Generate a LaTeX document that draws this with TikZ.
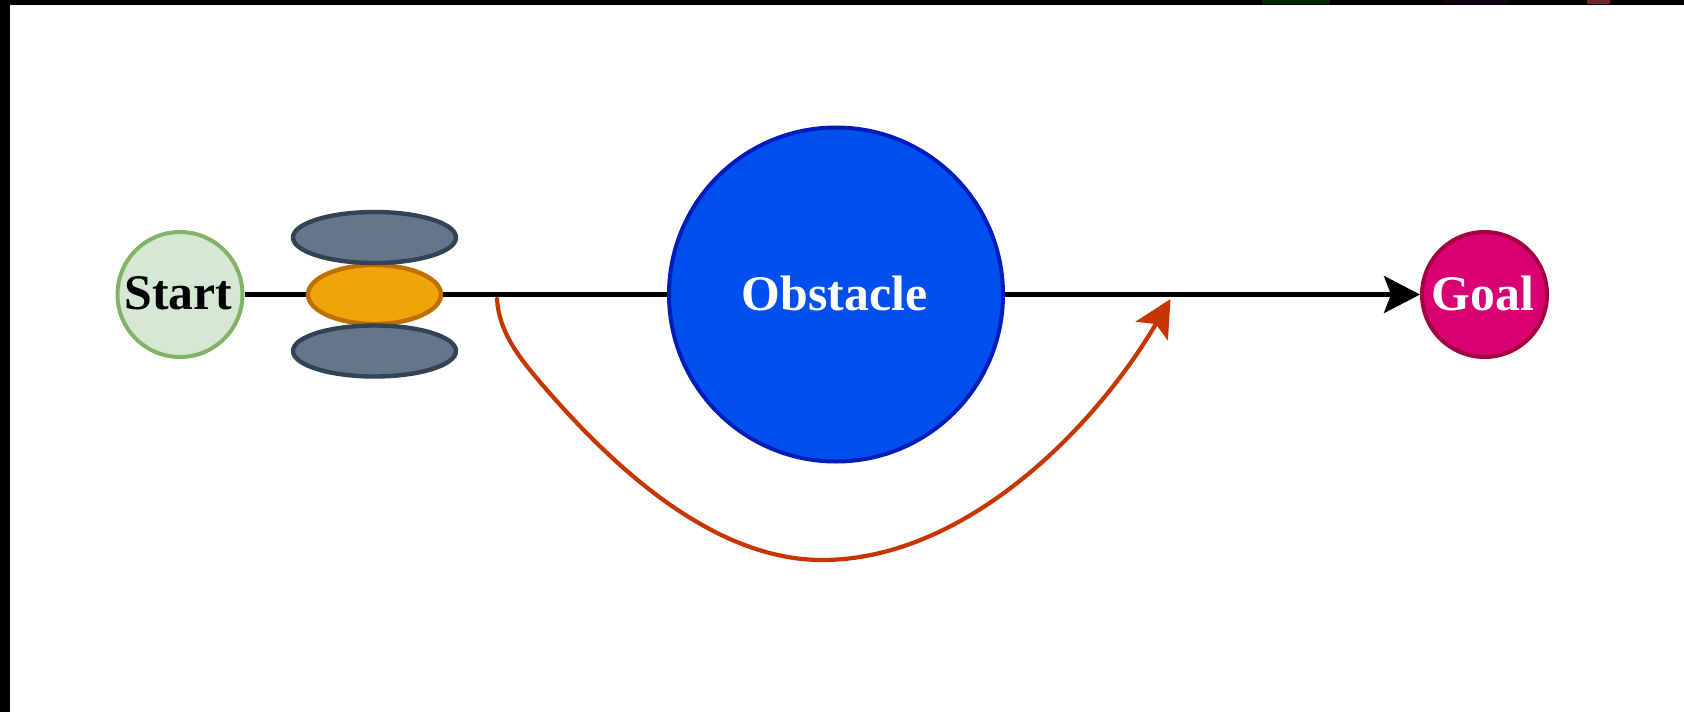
\documentclass[tikz,border=0pt]{standalone}
\usepackage{fontspec}
\setmainfont{Liberation Serif}
\usetikzlibrary{arrows.meta,shapes.geometric}
\definecolor{startfill}{HTML}{D5E8D4}
\definecolor{startline}{HTML}{82B366}
\definecolor{slatefill}{HTML}{647687}
\definecolor{slateline}{HTML}{314354}
\definecolor{orangefill}{HTML}{F0A30A}
\definecolor{orangeline}{HTML}{BD7000}
\definecolor{obfill}{HTML}{0050EF}
\definecolor{obline}{HTML}{001DBC}
\definecolor{goalfill}{HTML}{D80073}
\definecolor{goalline}{HTML}{A50040}
\definecolor{routeline}{HTML}{C73500}
\tikzset{
  disc/.style={circle,line width=4pt,inner sep=0pt,align=center,font=\fontsize{49.8}{52}\selectfont\bfseries},
  oval/.style={ellipse,line width=4.4pt,inner sep=0pt,outer sep=0pt},
  mainline/.style={line width=4.6pt,-{Stealth[length=36pt,width=37pt,inset=7pt]}},
  route/.style={draw=routeline,line width=4.2pt,line cap=round,-{Stealth[length=37pt,width=37pt,inset=8pt]}}
}
\begin{document}
\begin{tikzpicture}[x=1pt,y=-1pt]
\useasboundingbox (0,0) rectangle (1684,712);
\fill[white] (0,0) rectangle (1684,712);
\fill[black] (0,0) rectangle (10,712);
\fill[black] (0,0) rectangle (1684,4.6);
\fill[black!85!green] (1262,0) rectangle (1330,4);
\fill[black!85!violet] (1445,0) rectangle (1510,4);
\fill[black!60!red!70!gray] (1587,0) rectangle (1610,4);
\coordinate (routeStart) at (497,299);
\coordinate (routeBend) at (540,382);
\coordinate (routeLow) at (822,560);
\coordinate (routeEnd) at (1170.5,299);
\node[disc,draw=startline,fill=startfill,text=black,minimum size=125pt] (start) at (180,294.5) {\raisebox{3pt}{\kern-3pt Start}};
\node[disc,draw=goalline,fill=goalfill,text=white,minimum size=125pt] (goal) at (1484.5,294.5) {\raisebox{3pt}{\kern-3pt Goal}};
\draw[mainline] (start.east) -- (goal.west);
\node[oval,draw=orangeline,fill=orangefill,minimum width=133pt,minimum height=59pt] (robot) at (374.5,294.5) {};
\node[oval,draw=slateline,fill=slatefill,minimum width=163pt,minimum height=51pt] (upper) at (374.5,237.5) {};
\node[oval,draw=slateline,fill=slatefill,minimum width=163pt,minimum height=51pt] (lower) at (374.5,351) {};
\node[disc,draw=obline,fill=obfill,text=white,minimum size=334pt] (obstacle) at (836,294.5) {\raisebox{3pt}{\kern-3pt Obstacle}};
\draw[route] (routeStart) .. controls (499,330) and (516,354) .. (routeBend)
  .. controls (600,452) and (705,560) .. (routeLow)
  .. controls (965,560) and (1095,428) .. (routeEnd);
\end{tikzpicture}
\end{document}
